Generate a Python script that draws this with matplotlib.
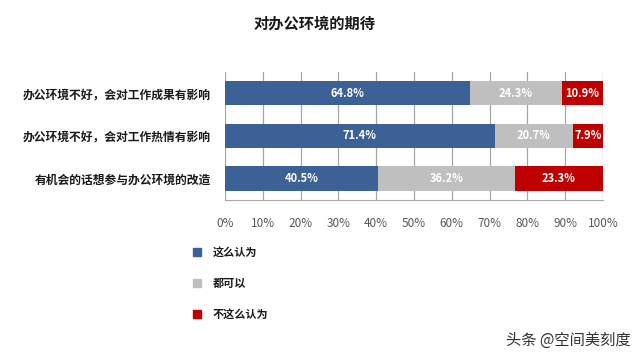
import numpy as np
import matplotlib.pyplot as plt
from matplotlib.patches import Rectangle

plt.rcParams['font.family'] = ['Noto Sans CJK SC', 'DejaVu Sans']

# data
categories = ['办公环境不好，会对工作成果有影响', '办公环境不好，会对工作热情有影响', '有机会的话想参与办公环境的改造']
series_names = ['这么认为', '都可以', '不这么认为']
yes_vals = [64.8, 71.4, 40.5]
ok_vals = [24.3, 20.7, 36.2]
no_vals = [10.9, 7.9, 23.3]
colors = ['#3B6196', '#BFBFBF', '#C00000']
xticks = np.arange(0, 101, 10)

fig = plt.figure(figsize=(6.4, 3.61), dpi=100)
ax = fig.add_axes([0.3516, 0.446, 0.5906, 0.355])

y = np.arange(len(categories))
left = np.zeros(len(categories))
for vals, col in zip([yes_vals, ok_vals, no_vals], colors):
    bars = ax.barh(y, vals, left=left, height=0.57, color=col, zorder=3)
    for b, v in zip(bars, vals):
        ax.text(b.get_x() + b.get_width() / 2, b.get_y() + b.get_height() / 2, f'{v}%',
                ha='center', va='center', color='white', fontsize=8, fontweight='bold', zorder=4)
    left += np.array(vals)

ax.set_xlim(0, 100)
ax.set_ylim(len(categories) - 0.5, -0.5)
ax.set_xticks(xticks)
ax.set_xticklabels([f'{t}%' for t in xticks], fontsize=8.5, color='#595959')
ax.set_yticks(y)
ax.set_yticklabels(categories, fontsize=8.5, color='#1a1a1a', fontweight='bold')
ax.tick_params(axis='both', length=0, pad=10)
ax.tick_params(axis='x', pad=12)
ax.grid(axis='x', color='#A6A6A6', linewidth=0.9, zorder=0)
for s in ['top', 'right', 'left']:
    ax.spines[s].set_visible(False)
ax.spines['bottom'].set_color('#A6A6A6')

fig.text(0.492, 0.935, '对办公环境的期待', ha='center', va='center', fontsize=11, color='#1a1a1a',
         fontweight='bold')

# legend
leg_y = [252, 283, 314]
for name, col, py in zip(series_names, colors, leg_y):
    fy = 1 - py / 361
    fig.patches.append(Rectangle((193 / 640, fy - 4 / 361), 8 / 640, 8 / 361,
                                 transform=fig.transFigure, color=col))
    fig.text(213 / 640, fy, name, ha='left', va='center', fontsize=8, color='#1a1a1a',
             fontweight='bold')

fig.text(0.985, 0.058, '头条 @空间美刻度', ha='right', va='center', fontsize=11, color='#333333')

fig.savefig('out.png', dpi=100)
